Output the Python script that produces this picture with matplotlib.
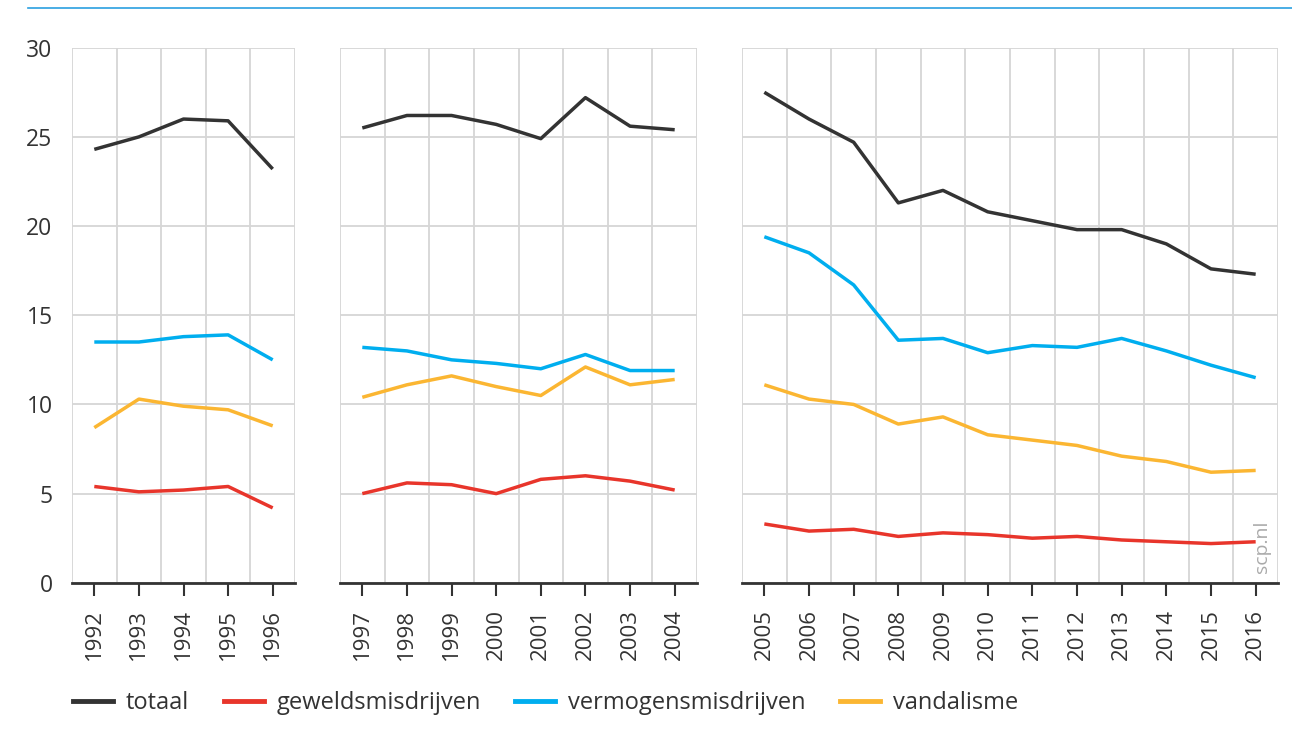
import matplotlib
matplotlib.use("Agg")
import matplotlib.pyplot as plt
from matplotlib.lines import Line2D

# ================= DATA =================
years_1 = [1992, 1993, 1994, 1995, 1996]
years_2 = [1997, 1998, 1999, 2000, 2001, 2002, 2003, 2004]
years_3 = [2005, 2006, 2007, 2008, 2009, 2010, 2011, 2012, 2013, 2014, 2015, 2016]

totaal_1 = [24.3, 25.0, 26.0, 25.9, 23.2]
totaal_2 = [25.5, 26.2, 26.2, 25.7, 24.9, 27.2, 25.6, 25.4]
totaal_3 = [27.5, 26.0, 24.7, 21.3, 22.0, 20.8, 20.3, 19.8, 19.8, 19.0, 17.6, 17.3]

geweld_1 = [5.4, 5.1, 5.2, 5.4, 4.2]
geweld_2 = [5.0, 5.6, 5.5, 5.0, 5.8, 6.0, 5.7, 5.2]
geweld_3 = [3.3, 2.9, 3.0, 2.6, 2.8, 2.7, 2.5, 2.6, 2.4, 2.3, 2.2, 2.3]

vermogen_1 = [13.5, 13.5, 13.8, 13.9, 12.5]
vermogen_2 = [13.2, 13.0, 12.5, 12.3, 12.0, 12.8, 11.9, 11.9]
vermogen_3 = [19.4, 18.5, 16.7, 13.6, 13.7, 12.9, 13.3, 13.2, 13.7, 13.0, 12.2, 11.5]

vandalisme_1 = [8.7, 10.3, 9.9, 9.7, 8.8]
vandalisme_2 = [10.4, 11.1, 11.6, 11.0, 10.5, 12.1, 11.1, 11.4]
vandalisme_3 = [11.1, 10.3, 10.0, 8.9, 9.3, 8.3, 8.0, 7.7, 7.1, 6.8, 6.2, 6.3]

series_names = ["totaal", "geweldsmisdrijven", "vermogensmisdrijven", "vandalisme"]
y_ticks = [0, 5, 10, 15, 20, 25, 30]

# ================= STYLE =================
COLORS = ["#333333", "#e8352b", "#00aeef", "#fbb632"]
GRID = "#d6d6d6"
TEXT = "#333333"
plt.rcParams["font.family"] = ["Open Sans", "DejaVu Sans"]
plt.rcParams["font.size"] = 16

W, H = 1292, 740
fig = plt.figure(figsize=(W / 100, H / 100), dpi=100)

# top rule
fig.add_artist(Line2D([28 / W, 1.0], [1 - 8 / H, 1 - 8 / H], color="#2a9fe0", linewidth=1.2))

# panel pixel extents (left, right)
panels = [
    (72, 295, years_1, [totaal_1, geweld_1, vermogen_1, vandalisme_1]),
    (340, 697, years_2, [totaal_2, geweld_2, vermogen_2, vandalisme_2]),
    (742, 1278, years_3, [totaal_3, geweld_3, vermogen_3, vandalisme_3]),
]
y_top, y_bot = 47.7, 582.8

for i, (x0, x1, yrs, vals) in enumerate(panels):
    ax = fig.add_axes([x0 / W, 1 - y_bot / H, (x1 - x0) / W, (y_bot - y_top) / H])
    for v, c in zip(vals, COLORS):
        ax.plot(yrs, v, color=c, linewidth=2.5, solid_capstyle="butt", zorder=3)
    ax.set_xlim(yrs[0] - 0.5, yrs[-1] + 0.5)
    ax.set_ylim(0, 30)
    ax.set_xticks(yrs)
    ax.set_xticks([y + 0.5 for y in [yrs[0] - 1] + yrs], minor=True)
    ax.set_xticklabels([str(y) for y in yrs], rotation=90, color=TEXT)
    ax.set_yticks(y_ticks)
    ax.grid(True, which="minor", axis="x", color=GRID, linewidth=1.3, zorder=0)
    ax.grid(True, which="major", axis="y", color=GRID, linewidth=1.3, zorder=0)
    ax.tick_params(axis="x", which="major", length=9, width=1.5, color=TEXT, pad=10)
    ax.tick_params(axis="x", which="minor", length=0)
    ax.tick_params(axis="y", length=0, pad=14, labelcolor=TEXT, labelsize=16.5)
    if i > 0:
        ax.set_yticklabels([])
    for s in ["left", "right", "top"]:
        ax.spines[s].set_visible(False)
    ax.spines["bottom"].set_color(TEXT)
    ax.spines["bottom"].set_linewidth(2)
    ax.set_axisbelow(True)
    ax.patch.set_alpha(0)

fig.text(1262 / W, 1 - 573 / H, "scp.nl", rotation=90, color="#aaaaaa",
         fontsize=14, ha="center", va="bottom")

# ================= LEGEND =================
handles = [Line2D([], [], color=c, linewidth=3.5) for c in COLORS]
leg = fig.legend(handles, series_names, loc="center left",
                 bbox_to_anchor=(73 / W, 1 - 703 / H), ncol=4, frameon=False,
                 borderpad=0, borderaxespad=0, handlelength=1.7,
                 handletextpad=0.55, columnspacing=1.45, fontsize=17)
for t in leg.get_texts():
    t.set_color(TEXT)

plt.savefig("out.png", dpi=100)
